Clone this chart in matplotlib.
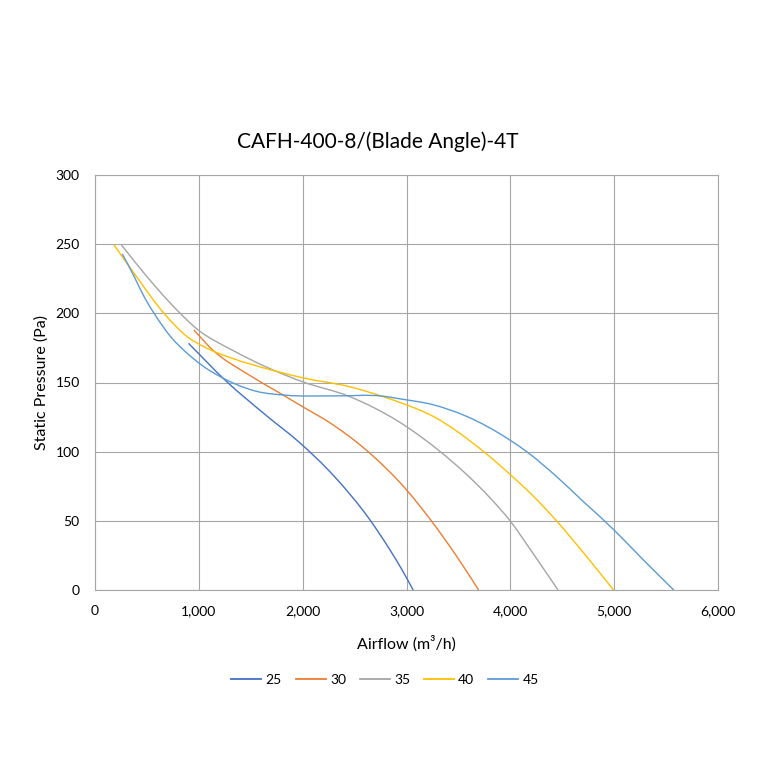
import matplotlib
matplotlib.use("Agg")
import matplotlib.pyplot as plt
from matplotlib.path import Path
from matplotlib.patches import PathPatch
from matplotlib.lines import Line2D
from matplotlib.ticker import FuncFormatter
import numpy as np

plt.rcParams['font.family'] = ['Lato', 'DejaVu Sans']

title = "CAFH-400-8/(Blade Angle)-4T"
series_names = ["25", "30", "35", "40", "45"]
colors = ["#4472C4", "#ED7D31", "#A5A5A5", "#FFC000", "#5B9BD5"]

x25 = [901, 1263, 1647, 1968, 2300, 2645, 2838, 2950, 3064]
y25 = [178.3, 151, 126.3, 106.7, 82.5, 51, 29.3, 15.5, 0]

x30 = [952, 1135, 1487, 1776, 1968, 2290, 2630, 3000, 3241, 3482, 3695]
y30 = [187.9, 173.4, 155.3, 142.5, 133.9, 119.5, 100, 72.4, 49.8, 24.5, 0]

x35 = [254, 473, 730, 987, 1340, 1647, 2000, 2450, 2936, 3322, 3579, 3800, 4000, 4200, 4459]
y35 = [249.5, 229, 207, 188.4, 172.7, 161.3, 150.5, 139.9, 121.2, 100.2, 83.5, 67, 49.8, 28.5, 0]

x40 = [183, 376, 665, 890, 1051, 1340, 1647, 2000, 2450, 2806, 2936, 3257, 3740, 4000, 4222, 4447, 4731, 4994]
y40 = [249.5, 229, 200, 183, 175.8, 167, 160.1, 153.4, 147, 139.0, 135.6, 125.5, 100.2, 83.4, 67.8, 49.8, 24.5, 0]

x45 = [263, 376, 473, 569, 730, 890, 1051, 1212, 1551, 1840, 2300, 2774, 2936, 3257, 3579, 4000, 4154, 4442, 4699, 5000, 5276, 5574]
y45 = [243, 226.8, 212, 200, 183, 171, 161.3, 154, 143.7, 140.8, 140.3, 140.1, 138.2, 133.9, 125.5, 108.2, 100.2, 82.2, 64.2, 43.3, 22.1, 0]

xs = [x25, x30, x35, x40, x45]
ys = [y25, y30, y35, y40, y45]

x_ticks = [0, 1000, 2000, 3000, 4000, 5000, 6000]
y_ticks = [0, 50, 100, 150, 200, 250, 300]


def smooth_path(x, y):
    """Cubic Hermite curve through the given points, drawn as Bezier segments."""
    x = np.asarray(x, float)
    y = np.asarray(y, float)
    n = len(x)
    h = np.diff(x)
    d = np.diff(y) / h
    m = np.empty(n)
    m[0] = d[0]
    m[-1] = d[-1]
    for i in range(1, n - 1):
        m[i] = (h[i - 1] * d[i] + h[i] * d[i - 1]) / (h[i - 1] + h[i])
    verts = [(x[0], y[0])]
    codes = [Path.MOVETO]
    for i in range(n - 1):
        t = h[i] / 3.0
        verts += [(x[i] + t, y[i] + m[i] * t),
                  (x[i + 1] - t, y[i + 1] - m[i + 1] * t),
                  (x[i + 1], y[i + 1])]
        codes += [Path.CURVE4] * 3
    return Path(verts, codes)


fig = plt.figure(figsize=(7.6, 7.6), dpi=100)
ax = fig.add_axes([95 / 760, 1 - 590 / 760, (718 - 95) / 760, (590 - 175) / 760])

for x, y, c in zip(xs, ys, colors):
    patch = PathPatch(smooth_path(x, y), facecolor='none', edgecolor=c, lw=1.0,
                      transform=ax.transData, zorder=3)
    ax.add_patch(patch)

ax.set_xlim(0, 6000)
ax.set_ylim(0, 300)
ax.set_xticks(x_ticks)
ax.set_yticks(y_ticks)
ax.xaxis.set_major_formatter(FuncFormatter(lambda v, p: f"{int(v):,}"))
ax.grid(True, color="#A6A6A6", lw=0.8)
ax.set_axisbelow(True)
for s in ax.spines.values():
    s.set_color("#A6A6A6")
    s.set_linewidth(0.8)
ax.tick_params(length=0, labelsize=10, colors="#000000")
ax.tick_params(axis='y', pad=11)
ax.tick_params(axis='x', pad=11)

ax.set_xlabel("Airflow (m³/h)", fontsize=11.5, labelpad=13)
ax.set_ylabel("Static Pressure (Pa)", fontsize=11.5, labelpad=5)
fig.text(378 / 760, 1 - 142 / 760, title, ha='center', va='center', fontsize=15)

handles = [Line2D([], [], color=c, lw=1.3) for c in colors]
fig.legend(handles, series_names, loc='center', bbox_to_anchor=(385 / 760, 1 - 680 / 760),
           ncol=5, frameon=False, fontsize=10, handlelength=2.16, columnspacing=1.0,
           handletextpad=0.3)

fig.savefig("out.png", dpi=100)
